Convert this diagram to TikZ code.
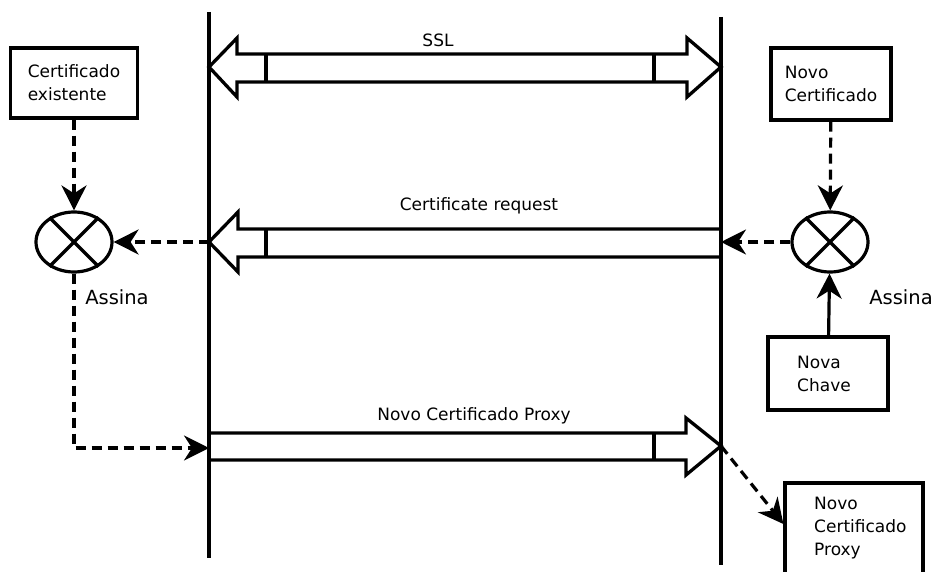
\documentclass[tikz,border=0pt]{standalone}
\usepackage{fontspec}
\setmainfont{DejaVu Sans}
\usetikzlibrary{shapes.geometric,arrows.meta}
\begin{document}
\begin{tikzpicture}[x=1pt,y=-1pt,
  lw/.style={line width=3.2pt},
  box/.style={draw,line width=3.2pt,align=left,inner sep=0pt,font=\fontsize{17}{23}\selectfont},
  boxtext/.style={align=left,inner sep=0pt,anchor=west,font=\fontsize{17}{23}\selectfont},
  sig/.style={draw,ellipse,line width=3.2pt,minimum width=76pt,minimum height=60pt,inner sep=0pt},
  tip/.style={-{Stealth[length=25pt,width=25pt,inset=8pt]}},
  dflow/.style={line width=3.2pt,dash pattern=on 10pt off 6pt,tip},
  sflow/.style={line width=3.2pt,tip},
  blk/.style={line width=3.3pt,miter limit=10},
  lbl/.style={font=\fontsize{17}{20}\selectfont,inner sep=0pt},
  big/.style={font=\fontsize{19.5}{22}\selectfont,inner sep=0pt}
]
\useasboundingbox (0,0) rectangle (934,572);
% lifelines
\coordinate (Ltop) at (209,12);
\coordinate (Lbot) at (209,558);
\coordinate (Rtop) at (721,17);
\coordinate (Rbot) at (721,565);
\draw[lw] (Ltop) -- (Lbot);
\draw[lw] (Rtop) -- (Rbot);
% SSL double arrow
\draw[blk] (209,67) -- (237,38) -- (237,54) -- (687,54) -- (687,38) -- (721,67)
  -- (687,97) -- (687,82) -- (237,82) -- (237,97) -- cycle;
\draw[blk] (266,54) -- (266,82);
\draw[blk] (654,54) -- (654,82);
\node[lbl] (ssl) at (438,40) {SSL};
% Certificate request arrow
\coordinate (reqL) at (209,242);
\coordinate (reqR) at (721,242);
\draw[blk] (721,229) -- (238,229) -- (238,212) -- (reqL) -- (238,272) -- (238,257) -- (721,257);
\draw[blk] (266,229) -- (266,257);
\node[lbl] (req) at (479,206) {Certificate request};
% Proxy arrow
\coordinate (prL) at (209,448);
\coordinate (prR) at (721,446);
\draw[blk] (209,433) -- (686,433) -- (686,418) -- (prR) -- (686,475) -- (686,460) -- (209,460);
\draw[blk] (654,433) -- (654,460);
\node[lbl] (prx) at (474,416) {Novo Certificado Proxy};
% boxes
\node[box,minimum width=127pt,minimum height=70pt] (cex) at (74,83) {Certificado\\existente};
\node[box,minimum width=120pt,minimum height=72pt] (nov) at (831,84) {Novo\\Certificado};
\node[box,minimum width=120pt,minimum height=73pt] (chv) at (828,373.5) {};
\node[boxtext] (chvt) at (797,373.5) {Nova\\Chave};
\node[box,minimum width=138pt,minimum height=94pt] (pbx) at (854,530) {};
\node[boxtext] (pbxt) at (814,528) {Novo\\Certificado\\Proxy};
% signing ellipses
\node[sig] (eL) at (74,242) {};
\node[sig] (eR) at (830,242) {};
\draw[lw] (eL.45) -- (eL.225) (eL.135) -- (eL.315);
\draw[lw] (eR.45) -- (eR.225) (eR.135) -- (eR.315);
\node[big] (aL) at (117,297) {Assina};
\node[big] (aR) at (901,297) {Assina};
% connectors
\draw[dflow] (cex) -- (eL);
\draw[dflow] (reqL) -- (eL);
\draw[dflow] (eL.south) |- (prL);
\draw[dflow] (nov) -- (eR);
\draw[dflow] (eR) -- (reqR);
\draw[sflow] (chv) -- (eR);
\draw[dflow] (prR) -- ([yshift=6pt]pbx.west);
\end{tikzpicture}
\end{document}
